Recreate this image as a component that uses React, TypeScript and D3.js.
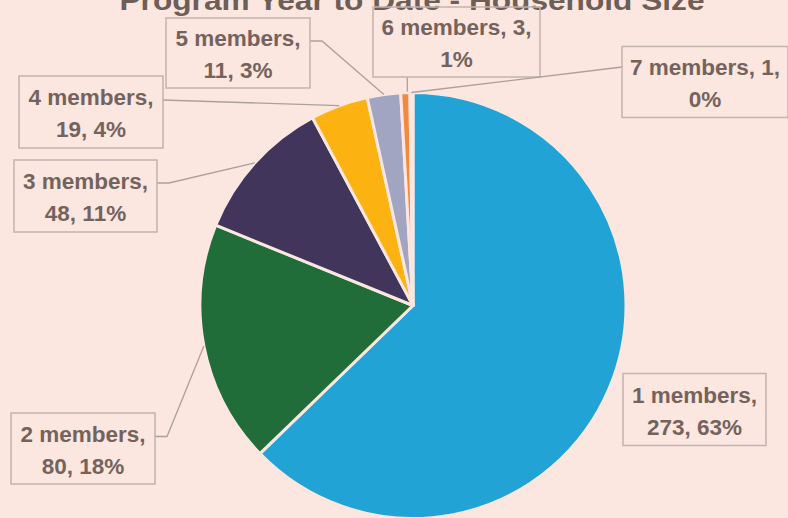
import React from "react";
import * as d3 from "d3";

const categories = ["1 members", "2 members", "3 members", "4 members", "5 members", "6 members", "7 members"];
const values = [273, 80, 48, 19, 11, 3, 1];
const percentLabels = ["63%", "18%", "11%", "4%", "3%", "1%", "0%"];
const colors = ["#21A3D5", "#216D3A", "#41355C", "#FCB312", "#A1A5C1", "#F3893F", "#F8D3C4"];

const labelBoxes = [
  { cx: 694.5, cy: 409.5, w: 143, h: 72, l1: "1 members,", l2: "273, 63%", side: "none" },
  { cx: 83, cy: 448.5, w: 144, h: 71, l1: "2 members,", l2: "80, 18%", side: "right" },
  { cx: 85.5, cy: 196, w: 143, h: 72, l1: "3 members,", l2: "48, 11%", side: "right" },
  { cx: 91, cy: 112, w: 144, h: 72, l1: "4 members,", l2: "19, 4%", side: "rightStraight" },
  { cx: 238, cy: 53, w: 144, h: 70, l1: "5 members,", l2: "11, 3%", side: "right" },
  { cx: 456.5, cy: 42, w: 167, h: 70, l1: "6 members, 3,", l2: "1%", side: "bottom" },
  { cx: 705, cy: 82, w: 166, h: 71, l1: "7 members, 1,", l2: "0%", side: "leftStraight" },
];

const W = 788;
const H = 518;
const BG = "#FCE6E0";
const TEXT = "#74635D";
const BOX = "#C2B3AE";
const LEADER = "#ABA09C";

export default function App() {
  const cx = 413;
  const cy = 305.5;
  const r = 213;
  const pie = d3.pie<number>().sort(null).value((d) => d)(values);
  const arc = d3.arc<d3.PieArcDatum<number>>().innerRadius(0).outerRadius(r);

  return (
    <svg
      width={W}
      height={H}
      style={{ position: "fixed", left: 0, top: 0, background: BG }}
      fontFamily="'Liberation Sans', Arial, sans-serif"
    >
      <rect x={0} y={0} width={W} height={H} fill={BG} />
      <text
        x={412}
        y={10}
        textAnchor="middle"
        fontSize={28}
        fontWeight="bold"
        fill="#6E5E58"
        textLength={585}
        lengthAdjust="spacingAndGlyphs"
      >
        Program Year to Date - Household Size
      </text>
      <g transform={`translate(${cx},${cy})`}>
        {pie.map((p, i) => (
          <path key={categories[i]} d={arc(p) || ""} fill={colors[i]} stroke={BG} strokeWidth={3} strokeLinejoin="round" />
        ))}
      </g>
      {pie.map((p, i) => {
        const b = labelBoxes[i];
        const mid = (p.startAngle + p.endAngle) / 2;
        const ex = cx + r * Math.sin(mid);
        const ey = cy - r * Math.cos(mid);
        let d = "";
        if (b.side === "right") {
          const x0 = b.cx + b.w / 2;
          const y0 = b.cy - (i === 4 ? 12 : 0) + (i === 1 ? -12 : 0) + (i === 2 ? -13 : 0);
          d = `M${x0},${y0}L${x0 + 12},${y0}L${ex},${ey}`;
        } else if (b.side === "rightStraight") {
          const x0 = b.cx + b.w / 2;
          const y0 = b.cy - 12;
          d = `M${x0},${y0}L${ex},${ey}`;
        } else if (b.side === "bottom") {
          const y0 = b.cy + b.h / 2;
          d = `M${ex + 2},${y0}L${ex + 2},${ey - 1}`;
        } else if (b.side === "leftStraight") {
          const x0 = b.cx - b.w / 2;
          const y0 = b.cy - 15;
          d = `M${x0},${y0}L${ex},${ey}`;
        }
        return (
          <g key={"lab" + i}>
            {d && <path d={d} fill="none" stroke={LEADER} strokeWidth={1.3} />}
            <rect
              x={b.cx - b.w / 2}
              y={b.cy - b.h / 2}
              width={b.w}
              height={b.h}
              fill="none"
              stroke={BOX}
              strokeWidth={1.5}
            />
            <text x={b.cx} y={b.cy - 7} textAnchor="middle" fontSize={22.5} fontWeight="bold" fill={TEXT}>
              {b.l1}
            </text>
            <text x={b.cx} y={b.cy + 25} textAnchor="middle" fontSize={22.5} fontWeight="bold" fill={TEXT}>
              {b.l2}
            </text>
          </g>
        );
      })}
    </svg>
  );
}
